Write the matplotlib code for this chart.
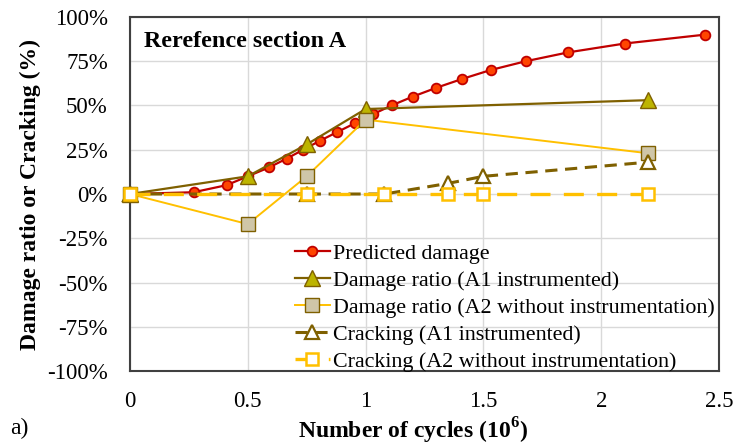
import matplotlib
matplotlib.use("Agg")
import matplotlib.pyplot as plt
import matplotlib.ticker as mticker

# ── data ────────────────────────────────────────────────────────────────────
pred_x = [0, 0.27, 0.41, 0.50, 0.59, 0.665, 0.735, 0.805, 0.88, 0.955, 1.03,
          1.11, 1.20, 1.30, 1.41, 1.53, 1.68, 1.86, 2.10, 2.44]
pred_y = [0, 1, 5, 10, 15, 20, 25, 30, 35, 40, 45, 50, 55, 60, 65, 70, 75, 80, 85, 90]

dmg_x = [0, 0.5, 0.75, 1.0, 2.2]
dmg_a1 = [0, 10, 28, 48, 53]
dmg_a2 = [0, -17, 10, 42, 23]

crack_x = [0, 0.75, 1.08, 1.35, 1.5, 2.2]
crack_a1 = [0, 0, 0, 6, 10, 18]
crack_a2 = [0, 0, 0, 0, 0, 0]

x_ticks = [0, 0.5, 1, 1.5, 2, 2.5]
y_ticks = [-100, -75, -50, -25, 0, 25, 50, 75, 100]

SERIF = "Liberation Serif"
RED = "#C00000"
OLIVE = "#7F6000"
GOLD = "#FFC000"

plt.rcParams["font.family"] = SERIF

fig = plt.figure(figsize=(7.36, 4.46), dpi=100)
ax = fig.add_axes([0.1766, 0.168, 0.8004, 0.794])

ax.plot(pred_x, pred_y, color=RED, lw=1.6, marker="o", ms=7,
        mfc="#FF4500", mec=RED, mew=1.3, label="Predicted damage",
        zorder=3, clip_on=False)
ax.plot(dmg_x, dmg_a1, color=OLIVE, lw=1.6, marker="^", ms=11,
        mfc="#BDB400", mec=OLIVE, mew=1.0,
        label="Damage ratio (A1 instrumented)", zorder=4, clip_on=False)
ax.plot(dmg_x, dmg_a2, color=GOLD, lw=1.4, marker="s", ms=10,
        mfc="#CFC6A8", mec=OLIVE, mew=1.0,
        label="Damage ratio (A2 without instrumentation)", zorder=5, clip_on=False)
ax.plot(crack_x, crack_a1, color=OLIVE, lw=2.2, ls=(0, (4, 2.5)), marker="^", ms=10,
        mfc="white", mec=OLIVE, mew=1.6,
        label="Cracking (A1 instrumented)", zorder=6, clip_on=False)
ax.plot(crack_x, crack_a2, color=GOLD, lw=2.4, ls=(0, (6, 4)), marker="s", ms=9,
        mfc="white", mec=GOLD, mew=1.8,
        label="Cracking (A2 without instrumentation)", zorder=7, clip_on=False)

ax.set_xlim(0, 2.5)
ax.set_ylim(-100, 100)
ax.set_xticks(x_ticks)
ax.set_yticks(y_ticks)
ax.xaxis.set_major_formatter(mticker.FuncFormatter(lambda v, _: f"{v:g}"))
ax.yaxis.set_major_formatter(mticker.FuncFormatter(
    lambda v, _: f"{v:.0f}%".replace("\u2212", "-")))
ax.tick_params(length=0, labelsize=16.5)
ax.tick_params(axis="y", pad=16)
ax.tick_params(axis="x", pad=14)
ax.grid(True, color="#D9D9D9", lw=1.0, zorder=0)
for s in ax.spines.values():
    s.set_color("#404040")
    s.set_linewidth(1.5)

ax.set_xlabel("Number of cycles (10$^{\\mathregular{6}}$)", fontsize=17,
              fontweight="bold")
ax.xaxis.set_label_coords(0.481, -0.125)
ax.set_ylabel("Damage ratio or Cracking (%)", fontsize=17, fontweight="bold",
              labelpad=4)

ax.text(0.024, 0.93, "Rerefence section A", transform=ax.transAxes,
        fontsize=17.4, fontweight="bold", va="center", ha="left")
fig.text(0.014, 0.04, "a)", fontsize=17, va="center", ha="left")

ax.legend(loc="upper left", bbox_to_anchor=(0.28, 0.36), frameon=False,
          fontsize=15.8, handlelength=1.6, handletextpad=0.15,
          labelspacing=0.3, borderaxespad=0, borderpad=0)

fig.savefig("out.png", dpi=100, facecolor="white")
